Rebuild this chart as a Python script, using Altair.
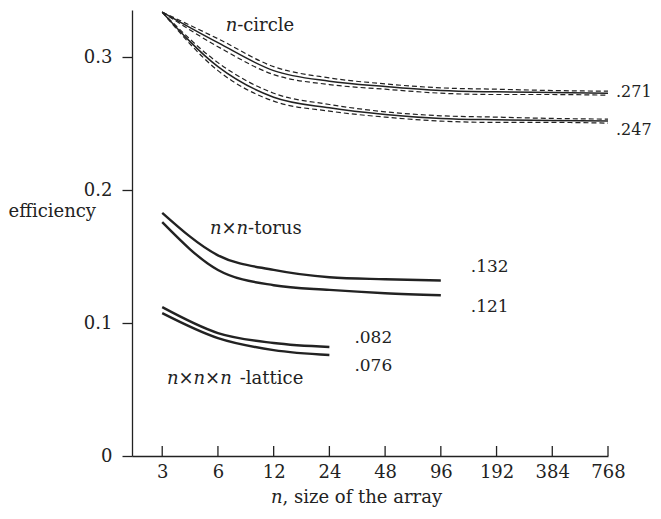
import altair as alt
import pandas as pd

FONT = "DejaVu Serif"
INK = "#222222"
FS = 18

# ---- data ----
n_circle = [3, 6, 12, 24, 48, 96, 192, 384, 768]
circle_upper = [0.334, 0.311, 0.290, 0.282, 0.278, 0.275, 0.274, 0.2735, 0.273]
circle_upper_err = [0.0, 0.003, 0.003, 0.0025, 0.002, 0.002, 0.002, 0.0015, 0.0015]
circle_lower = [0.334, 0.293, 0.270, 0.262, 0.257, 0.254, 0.253, 0.2525, 0.252]
circle_lower_err = [0.0, 0.003, 0.003, 0.0025, 0.002, 0.002, 0.002, 0.0015, 0.0015]

n_torus = [3, 6, 12, 24, 48, 96]
torus_upper = [0.183, 0.151, 0.140, 0.1345, 0.133, 0.132]
torus_lower = [0.176, 0.140, 0.1285, 0.125, 0.1225, 0.121]

n_lattice = [3, 6, 12, 24]
lattice_upper = [0.112, 0.0925, 0.085, 0.082]
lattice_lower = [0.1075, 0.0887, 0.0797, 0.076]

x_ticks = [3, 6, 12, 24, 48, 96, 192, 384, 768]
y_ticks = [0, 0.1, 0.2, 0.3]

end_labels = [".271", ".247", ".132", ".121", ".082", ".076"]
end_anchor_n = [768, 768, 96, 96, 24, 24]
end_anchor_y = [0.273, 0.252, 0.132, 0.121, 0.082, 0.076]
end_dx = [8, 8, 30, 30, 25, 25]
end_dy = [-1, 9, -14, 12, -9, 11]
end_size = [16, 16, 17, 17, 17, 17]

W, H = 476, 446
xscale = alt.Scale(type="log", base=2, domain=[2.06, 768], nice=False)
yscale = alt.Scale(domain=[0, 0.3356], nice=False, zero=True)


def series_df(ns, vals, name):
    return pd.DataFrame({"n": ns, "eff": vals, "series": name})


solid_circle = pd.concat([
    series_df(n_circle, circle_upper, "circle_upper"),
    series_df(n_circle, circle_lower, "circle_lower"),
])
dashed_circle = pd.concat([
    series_df(n_circle, [v + e for v, e in zip(circle_upper, circle_upper_err)], "cu_hi"),
    series_df(n_circle, [v - e for v, e in zip(circle_upper, circle_upper_err)], "cu_lo"),
    series_df(n_circle, [v + e for v, e in zip(circle_lower, circle_lower_err)], "cl_hi"),
    series_df(n_circle, [v - e for v, e in zip(circle_lower, circle_lower_err)], "cl_lo"),
])
thick = pd.concat([
    series_df(n_torus, torus_upper, "torus_upper"),
    series_df(n_torus, torus_lower, "torus_lower"),
    series_df(n_lattice, lattice_upper, "lattice_upper"),
    series_df(n_lattice, lattice_lower, "lattice_lower"),
])

X = alt.X("n:Q", scale=xscale,
          axis=alt.Axis(values=x_ticks, ticks=False, labelPadding=7, grid=False,
                        labelFont=FONT, labelFontSize=FS, labelColor=INK,
                        domainColor=INK, domainWidth=1.3, title=None,
                        labelFlush=False, labelOverlap=False))
Y = alt.Y("eff:Q", scale=yscale,
          axis=alt.Axis(values=y_ticks, tickSize=10, labelPadding=10, grid=False,
                        labelExpr="datum.value == 0 ? '0' : format(datum.value, '.1f')",
                        labelFont=FONT, labelFontSize=FS, labelColor=INK,
                        domainColor=INK, domainWidth=1.3, tickColor=INK, tickWidth=1.3,
                        title="efficiency", titleAngle=0, titleAlign="left",
                        titleBaseline="middle", titleX=-124, titleY=201,
                        titleFont=FONT, titleFontSize=FS, titleFontWeight="normal",
                        titleColor=INK))

base_solid = alt.Chart(solid_circle).mark_line(
    color=INK, strokeWidth=1.5, interpolate="monotone"
).encode(x=X, y=Y, detail="series:N")

base_dash = alt.Chart(dashed_circle).mark_line(
    color=INK, strokeWidth=1.2, strokeDash=[5, 3], interpolate="monotone"
).encode(x=alt.X("n:Q", scale=xscale), y=alt.Y("eff:Q", scale=yscale), detail="series:N")

base_thick = alt.Chart(thick).mark_line(
    color=INK, strokeWidth=2.4, interpolate="monotone"
).encode(x=alt.X("n:Q", scale=xscale), y=alt.Y("eff:Q", scale=yscale), detail="series:N")

# upward x ticks
tick_df = pd.DataFrame({"n": x_ticks})
x_tick_rules = alt.Chart(tick_df).mark_rule(color=INK, strokeWidth=1.3).encode(
    x=alt.X("n:Q", scale=xscale), y=alt.value(H), y2=alt.value(H - 10)
)

layers = [base_solid, base_dash, base_thick, x_tick_rules]

# end-value labels
for lab, an, ay, dx, dy, fs in zip(end_labels, end_anchor_n, end_anchor_y,
                                   end_dx, end_dy, end_size):
    d = pd.DataFrame({"n": [an], "eff": [ay], "t": [lab]})
    layers.append(
        alt.Chart(d).mark_text(align="left", baseline="middle", dx=dx, dy=dy,
                               font=FONT, fontSize=fs, color=INK)
        .encode(x=alt.X("n:Q", scale=xscale), y=alt.Y("eff:Q", scale=yscale), text="t:N")
    )

# mixed italic/roman curve labels
WIDTHS = {"n": 0.64 * FS, "×": 0.838 * FS, " ": 0.45 * FS}


def pieces_width(text):
    return WIDTHS.get(text, 0)


curve_labels = [
    # anchor n, anchor eff, dx, dy, pieces
    (12, 0.290, -48, -45, [("n", True), ("-circle", False)]),
    (6, 0.151, -8, -26, [("n", True), ("×", False), ("n", True), ("-torus", False)]),
    (6, 0.0887, -51, 41, [("n", True), ("×", False), ("n", True), ("×", False),
                          ("n", True), (" ", False), ("-lattice", False)]),
]

for an, ay, dx, dy, pieces in curve_labels:
    off = dx
    for text, italic in pieces:
        if text.strip():
            d = pd.DataFrame({"n": [an], "eff": [ay], "t": [text]})
            layers.append(
                alt.Chart(d).mark_text(align="left", baseline="middle", dx=off, dy=dy,
                                       font=FONT, fontSize=FS, color=INK,
                                       fontStyle="italic" if italic else "normal")
                .encode(x=alt.X("n:Q", scale=xscale), y=alt.Y("eff:Q", scale=yscale),
                        text="t:N")
            )
        off += pieces_width(text)

# x-axis title with italic n
title_pieces = [("n", True), (", size of the array", False)]
tx = 139
for text, italic in title_pieces:
    d = pd.DataFrame({"t": [text]})
    layers.append(
        alt.Chart(d).mark_text(align="left", baseline="middle",
                               font=FONT, fontSize=FS, color=INK,
                               fontStyle="italic" if italic else "normal")
        .encode(x=alt.value(tx), y=alt.value(H + 42), text="t:N")
    )
    tx += pieces_width(text)

chart = alt.layer(*layers).properties(
    width=W, height=H,
    autosize=alt.AutoSizeParams(type="none"),
    padding={"left": 124, "top": 2, "right": 45, "bottom": 55},
).configure(background="white").configure_view(stroke=None)

chart.save("out.html", embed_options={"renderer": "svg", "actions": False})
